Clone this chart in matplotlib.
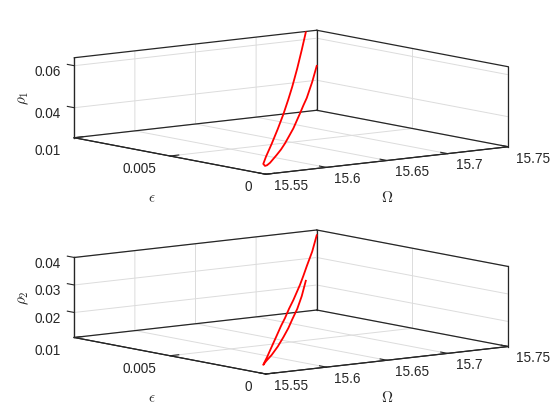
import matplotlib
matplotlib.use('Agg')
import matplotlib.pyplot as plt

plt.rcParams['font.family'] = ['Liberation Sans', 'DejaVu Sans']
plt.rcParams['mathtext.fontset'] = 'cm'

# curve goes from the end of one branch, through the nose, to the end of the other
omega = [15.7394, 15.7216, 15.7020, 15.6798, 15.6621, 15.6399, 15.6151, 15.5884, 15.5631, 15.5511,
         15.5574, 15.5648, 15.5759, 15.6006, 15.6165, 15.6313, 15.6460, 15.6620, 15.6867, 15.6989,
         15.7115, 15.7321, 15.7484]
epsilon = [0.0099, 0.008986, 0.007979, 0.006835, 0.00592, 0.004776, 0.003495, 0.002122, 0.000818, 0.0002,
           0.000509, 0.000872, 0.001417, 0.002634, 0.003415, 0.004142, 0.004868, 0.00565, 0.006867, 0.007466,
           0.008084, 0.009101, 0.0099]
rho1 = [0.0637, 0.0580, 0.0523, 0.0470, 0.0437, 0.0400, 0.0369, 0.0340, 0.0318, 0.0302,
        0.0283, 0.0275, 0.0270, 0.0270, 0.0272, 0.0279, 0.0290, 0.0304, 0.0338, 0.0357,
        0.0374, 0.0420, 0.0471]
rho2 = [0.0222, 0.0187, 0.0164, 0.0152, 0.0141, 0.0134, 0.0130, 0.0131, 0.0138, 0.0139,
        0.0145, 0.0151, 0.0163, 0.0188, 0.0205, 0.0217, 0.0233, 0.0247, 0.0274, 0.0292,
        0.0313, 0.0343, 0.0383]

omega_ticks = [15.55, 15.6, 15.65, 15.7, 15.75]
omega_labels = ['15.55', '15.6', '15.65', '15.7', '15.75']
eps_ticks = [0, 0.005, 0.01]
eps_labels = ['0', '0.005', '0.01']
rho1_ticks = [0.04, 0.06]
rho1_labels = ['0.04', '0.06']
rho2_ticks = [0.02, 0.03, 0.04]
rho2_labels = ['0.02', '0.03', '0.04']

omega_lim = (15.55, 15.75)
eps_lim = (0, 0.01)
rho1_lim = (0.0257, 0.0638)
rho2_lim = (0.0109, 0.04)

DARK = '#262626'
W, H = 560.0, 420.0
SCALE = 1.5


def draw_panel(center_y, label_shift, rho, rho_lim, rho_ticks, rho_labels, rho_name):
    fig = plt.gcf()
    side = 432.7 * SCALE
    left = 291.25 - 0.5135 * side
    bottom = center_y - 0.5135 * side
    ax = fig.add_axes([left / W, bottom / H, side / W, side / H],
                      projection='3d', computed_zorder=False)
    ax.set_proj_type('ortho')
    ax.view_init(elev=8.45, azim=-127.64)
    ax.set_box_aspect((306.2, 313.6, 80.9), zoom=1 / SCALE)
    ax.set_facecolor('none')
    ax.set_xlim(*omega_lim, view_margin=0)
    ax.set_ylim(*eps_lim, view_margin=0)
    ax.set_zlim(*rho_lim, view_margin=0)

    ax.set_xticks(omega_ticks)
    ax.set_xticklabels(omega_labels, ha='left')
    ax.set_yticks(eps_ticks)
    ax.set_yticklabels(eps_labels, ha='right')
    ax.set_zticks(rho_ticks)
    ax.set_zticklabels(rho_labels)
    ax.tick_params(labelsize=9.8, colors=DARK)
    ax.tick_params(axis='x', pad=2)
    ax.tick_params(axis='y', pad=6)
    ax.tick_params(axis='z', pad=6.7)

    for axis in (ax.xaxis, ax.yaxis, ax.zaxis):
        axis.set_pane_color((1, 1, 1, 0))
        axis.pane.set_edgecolor('none')
        axis.line.set_color(DARK)
        axis.line.set_linewidth(0.8)
        axis._axinfo['tick']['inward_factor'] = 0
        axis._axinfo['tick']['outward_factor'] = 0.45
        axis._axinfo['tick']['linewidth'] = {True: 0.8, False: 0.8}
        axis._axinfo['tick']['color'] = DARK
        axis._axinfo['grid']['color'] = '#dcdcdc'
        axis._axinfo['grid']['linewidth'] = 0.7
    # z ticks run along epsilon, as in the original
    ax.zaxis._get_tickdir = lambda pos: 1

    fig.text(387 / W, 1 - (198 + label_shift) / H, r'$\Omega$', fontsize=11, color=DARK,
             ha='center', va='center')
    fig.text(152 / W, 1 - (198 + label_shift) / H, r'$\epsilon$', fontsize=11, color=DARK,
             ha='center', va='center')
    fig.text(23.5 / W, 1 - (98 + label_shift) / H, rho_name, fontsize=11, color=DARK,
             ha='center', va='center', rotation=90)

    # box edges of the back walls
    x0, x1 = omega_lim
    y0, y1 = eps_lim
    z0, z1 = rho_lim
    edges = [((x0, x1), (y1, y1), (z0, z0)), ((x1, x1), (y0, y1), (z0, z0)),
             ((x0, x1), (y0, y0), (z0, z0)), ((x0, x0), (y0, y1), (z0, z0)),
             ((x0, x1), (y1, y1), (z1, z1)), ((x1, x1), (y0, y1), (z1, z1)),
             ((x0, x0), (y1, y1), (z0, z1)), ((x1, x1), (y1, y1), (z0, z1)),
             ((x1, x1), (y0, y0), (z0, z1))]
    for ex, ey, ez in edges:
        ax.plot(ex, ey, ez, color=DARK, lw=0.9)

    ax.plot(omega, epsilon, rho, color='red', lw=1.3)
    return ax


fig = plt.figure(figsize=(5.6, 4.2), dpi=100)
draw_panel(317.75, 0, rho1, rho1_lim, rho1_ticks, rho1_labels, r'$\rho_1$')
draw_panel(118.0, 200, rho2, rho2_lim, rho2_ticks, rho2_labels, r'$\rho_2$')
fig.savefig('out.png', dpi=100)
